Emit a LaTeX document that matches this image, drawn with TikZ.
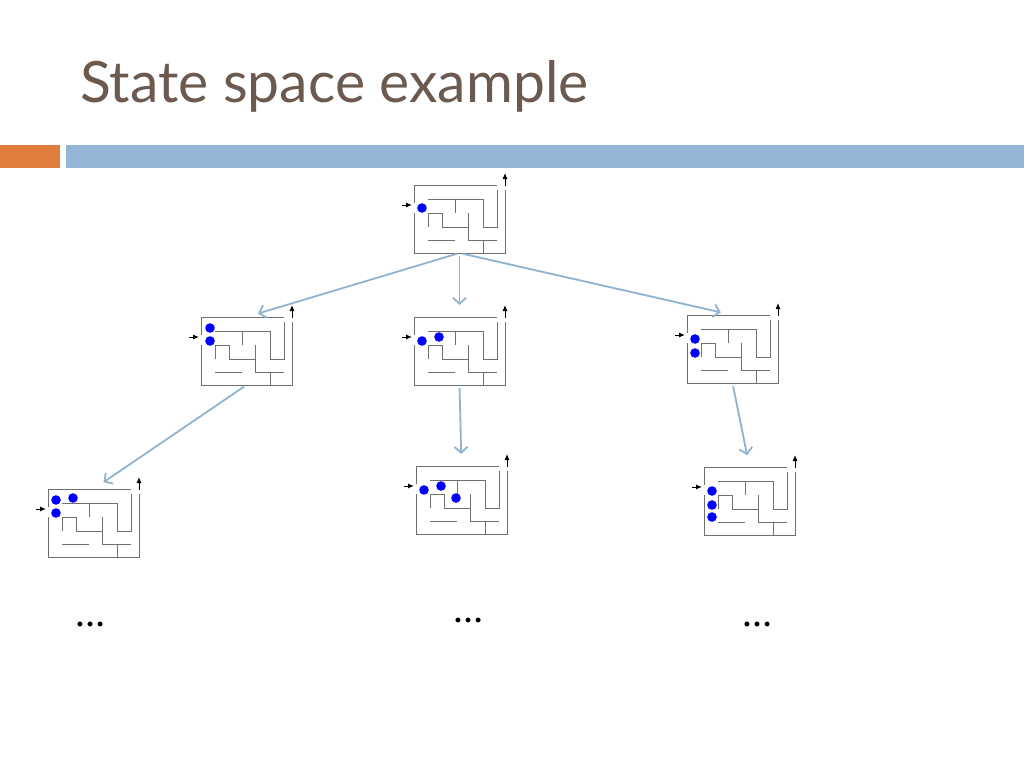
\documentclass[tikz,border=0pt]{standalone}
\usepackage{fontspec}
\setmainfont{Lato}
\newfontfamily\dotsfont{Liberation Serif}
\usetikzlibrary{arrows,arrows.meta,positioning}
\definecolor{titlebrown}{HTML}{6B5A50}
\definecolor{barorange}{HTML}{E07C3E}
\definecolor{barblue}{HTML}{94B6D4}
\definecolor{linkblue}{HTML}{8FB3D1}
\definecolor{wallgray}{HTML}{707070}

\tikzset{
  wall/.style={draw=wallgray,line width=1pt},
  mazedot/.style={fill=blue},
  pointer/.style={-{Latex[length=6pt,width=5pt]},line width=1pt},
  mazebox/.style={rectangle,minimum width=91pt,minimum height=68pt,inner sep=0pt,outer sep=0pt},
  link/.style={-{Straight Barb[length=6pt,width=13pt]},draw=linkblue,line width=1.8pt,shorten <=3pt,shorten >=12pt},
  maze/.pic={
    % outer walls
    \draw[wall] (0,18) -- (0,0) -- (83,0);
    \draw[wall] (0,28) -- (0,68) -- (91,68) -- (91,5);
    % inner walls
    \draw[wall] (14,14) -- (69,14) -- (69,42) -- (83,42) -- (83,5);
    \draw[wall] (41,14) -- (41,28);
    \draw[wall] (14,42) -- (14,28) -- (28,28) -- (28,42) -- (54,42);
    \draw[wall] (54,28) -- (54,55) -- (83,55);
    \draw[wall] (14,55) -- (41,55);
    \draw[wall] (69,55) -- (69,68);
    % entrance and exit
    \draw[pointer] (-12,20) -- (-2,20);
    \draw[pointer] (91,1) -- (91,-12);
    \foreach \p in {#1} \fill[mazedot] \p circle[radius=4.8pt];
  }
}

\begin{document}
\begin{tikzpicture}[x=1pt,y=-1pt]
  \useasboundingbox (0,0) rectangle (1024,768);
  \fill[white] (0,0) rectangle (1024,768);

  % header
  \node[anchor=base west,inner sep=0pt,text=titlebrown,font=\fontsize{57}{62}\selectfont] (title) at (80,102) {State space example};
  \fill[barorange] (0,145) rectangle (60,168);
  \fill[barblue] (66,145) rectangle (1024,168);

  % states
  \node[mazebox] (s0) at (459.5,219) {};
  \node[mazebox] (s1) at (246.5,351) {};
  \node[mazebox] (s2) at (459.5,351) {};
  \node[mazebox] (s3) at (732.5,349) {};
  \node[mazebox] (s4) at (93.5,523) {};
  \node[mazebox] (s5) at (461.5,500) {};
  \node[mazebox] (s6) at (749.5,501) {};

  \pic at (s0.north west) {maze={(8,23)}};
  \pic at (s1.north west) {maze={(9,11),(9,24)}};
  \pic at (s2.north west) {maze={(8,24),(25,20)}};
  \pic at (s3.north west) {maze={(8,24),(8,38)}};
  \pic at (s4.north west) {maze={(8,11),(25,9),(8,24)}};
  \pic at (s5.north west) {maze={(8,24),(25,20),(40,32)}};
  \pic at (s6.north west) {maze={(8,24),(8,38),(8,50)}};

  % moves
  \draw[link] (s0.south) -- (s1.north);
  \draw[link] (s0.south) -- (s2.north);
  \draw[link] (s0.south) -- (s3.north);
  \draw[link] (s1.south) -- (s4.north);
  \draw[link] (s2.south) -- (s5.north);
  \draw[link] (s3.south) -- (s6.north);

  % more states below
  \node[font=\dotsfont\bfseries\fontsize{30}{32}\selectfont] (more1) at (90,624) {\dots};
  \node[font=\dotsfont\bfseries\fontsize{30}{32}\selectfont] (more2) at (468,620) {\dots};
  \node[font=\dotsfont\bfseries\fontsize{30}{32}\selectfont] (more3) at (757,624) {\dots};
\end{tikzpicture}
\end{document}
